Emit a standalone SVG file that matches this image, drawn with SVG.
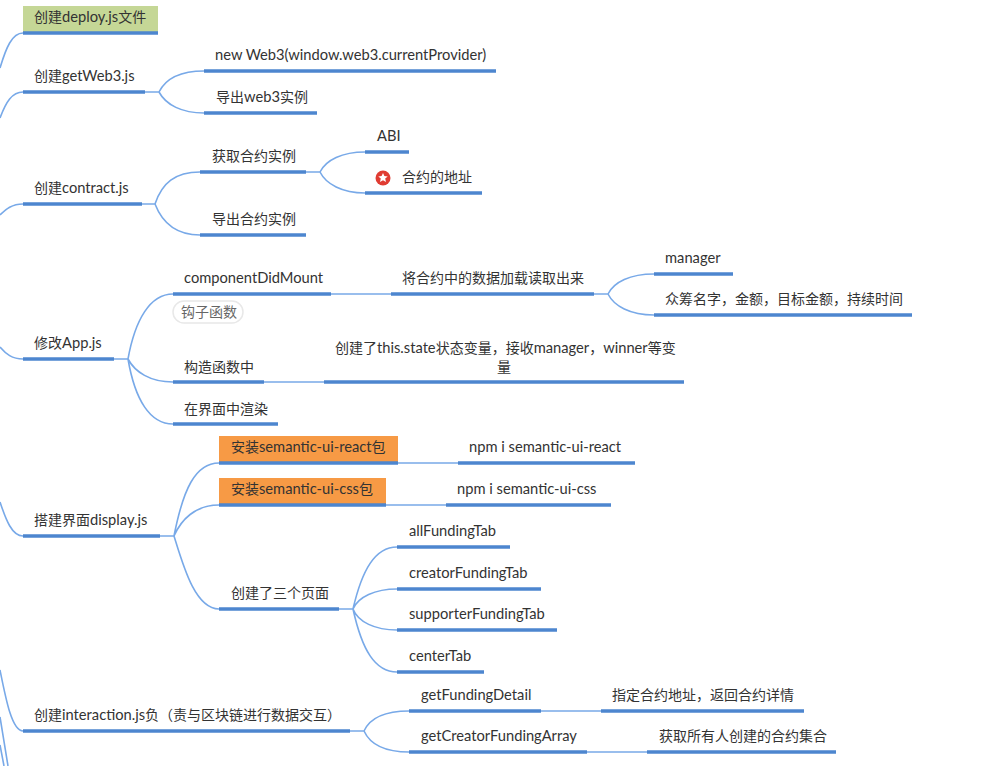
<svg xmlns="http://www.w3.org/2000/svg" width="1000" height="766" viewBox="0 0 1000 766">
<style>
text{font-family:"Noto Sans CJK SC","Noto Sans",sans-serif;font-size:14px;fill:#333}
.l{font-family:Lato,"Noto Sans",sans-serif;font-size:14.7px}
.bar{stroke:#4d86cf;stroke-width:3.5;fill:none}
.link{stroke:#78a9e8;stroke-width:1.6;fill:none}
</style>
<rect width="1000" height="766" fill="#fff"/>
<g id="connectors">
<path class="link" d="M0 68C6 48 12 33 23 33M0 118C6 102 12 92 23 92M0 215C6 209 12 204 23 204M0 347C6 354 12 359 23 359M0 502C6 520 12 536 23 536M0 670C6 700 12 731 23 731M0 717L8 766M0 745L4 766"/>
<path class="link" d="M145 92H159C166 78 182 71 204 71M159 92C166 105 182 113 204 113"/>
<path class="link" d="M142 204H155C162 183 175 172 200 172M155 204C162 222 175 235 200 235"/>
<path class="link" d="M306 172H320C326 160 342 152 365 152M320 172C326 184 342 193 365 193"/>
<path class="link" d="M114 359H128C135 320 150 294 173 294M128 359C135 372 150 382 173 382M128 359C135 400 150 424 173 424"/>
<path class="link" d="M331 294H391M594 294H608C614 282 630 274 654 274M608 294C614 306 630 315 654 315M264 382H324"/>
<path class="link" d="M160 536H174C183 490 195 463 219 463M174 536C181 520 195 505 219 505M174 536C183 565 195 609 219 609"/>
<path class="link" d="M398 463H458M386 505H446"/>
<path class="link" d="M339 609H353C362 570 375 547 397 547M353 609C358 597 375 589 397 589M353 609C358 622 375 630 397 630M353 609C362 650 375 672 397 672"/>
<path class="link" d="M350 731H364C370 718 385 711 409 711M364 731C370 744 385 752 409 752M541 711H601M587 752H647"/>
</g>
<g id="n-deploy"><rect x="23" y="6" width="135" height="27" fill="#c5d796"/><path class="bar" d="M23 33H158"/><text x="34" y="22">创建<tspan class="l">deploy.js</tspan>文件</text></g>
<g id="n-getweb3"><path class="bar" d="M23 92H145"/><text x="34" y="81">创建<tspan class="l">getWeb3.js</tspan></text></g>
<g id="n-provider"><path class="bar" d="M204 71H496"/><text x="215" y="60"><tspan class="l">new Web3(window.web3.currentProvider)</tspan></text></g>
<g id="n-export-web3"><path class="bar" d="M204 113H317"/><text x="216" y="102">导出<tspan class="l">web3</tspan>实例</text></g>
<g id="n-contract"><path class="bar" d="M23 204H142"/><text x="34" y="193">创建<tspan class="l">contract.js</tspan></text></g>
<g id="n-get-instance"><path class="bar" d="M200 172H306"/><text x="212" y="161">获取合约实例</text></g>
<g id="n-abi"><path class="bar" d="M365 152H409"/><text x="377" y="141"><tspan class="l">ABI</tspan></text></g>
<g id="n-address"><path class="bar" d="M365 193H482"/><circle cx="383" cy="178" r="7.500" fill="#e03c32"/><path d="M383 173l1.400 3.100 3.300.3-2.500 2.200.8 3.300-3-1.700-3 1.700.8-3.300-2.500-2.200 3.300-.3z" fill="#fff"/><text x="402" y="182">合约的地址</text></g>
<g id="n-export-instance"><path class="bar" d="M200 235H306"/><text x="212" y="224">导出合约实例</text></g>
<g id="n-app"><path class="bar" d="M23 359H114"/><text x="34" y="348">修改<tspan class="l">App.js</tspan></text></g>
<g id="n-did-mount"><path class="bar" d="M173 294H331"/><text x="184" y="283"><tspan class="l">componentDidMount</tspan></text><rect x="173" y="301" width="70" height="22" rx="11" fill="#fff" stroke="#e8e8e8" stroke-width="1.500"/><text x="181" y="317" style="fill:#666">钩子函数</text></g>
<g id="n-load"><path class="bar" d="M391 294H594"/><text x="402" y="283">将合约中的数据加载读取出来</text></g>
<g id="n-manager"><path class="bar" d="M654 274H733"/><text x="665" y="263"><tspan class="l">manager</tspan></text></g>
<g id="n-fields"><path class="bar" d="M654 315H912"/><text x="665" y="304">众筹名字，金额，目标金额，持续时间</text></g>
<g id="n-ctor"><path class="bar" d="M173 382H264"/><text x="184" y="372">构造函数中</text></g>
<g id="n-state"><path class="bar" d="M324 382H684"/><text x="335" y="353">创建了<tspan class="l">this.state</tspan>状态变量，接收<tspan class="l">manager</tspan>，<tspan class="l">winner</tspan>等变</text><text x="497" y="372">量</text></g>
<g id="n-render"><path class="bar" d="M173 424H278"/><text x="184" y="414">在界面中渲染</text></g>
<g id="n-display"><path class="bar" d="M23 536H160"/><text x="34" y="525">搭建界面<tspan class="l">display.js</tspan></text></g>
<g id="n-install-react"><rect x="219" y="436" width="179" height="27" fill="#f79a45"/><path class="bar" d="M219 463H398"/><text x="231" y="452">安装<tspan class="l">semantic-ui-react</tspan>包</text></g>
<g id="n-npm-react"><path class="bar" d="M458 463H635"/><text x="469" y="452"><tspan class="l">npm i semantic-ui-react</tspan></text></g>
<g id="n-install-css"><rect x="219" y="478" width="167" height="27" fill="#f79a45"/><path class="bar" d="M219 505H386"/><text x="231" y="494">安装<tspan class="l">semantic-ui-css</tspan>包</text></g>
<g id="n-npm-css"><path class="bar" d="M446 505H611"/><text x="457" y="494"><tspan class="l">npm i semantic-ui-css</tspan></text></g>
<g id="n-pages"><path class="bar" d="M219 609H339"/><text x="231" y="598">创建了三个页面</text></g>
<g id="n-all"><path class="bar" d="M397 547H510"/><text x="409" y="536"><tspan class="l">allFundingTab</tspan></text></g>
<g id="n-creator"><path class="bar" d="M397 589H541"/><text x="409" y="578"><tspan class="l">creatorFundingTab</tspan></text></g>
<g id="n-supporter"><path class="bar" d="M397 630H557"/><text x="409" y="619"><tspan class="l">supporterFundingTab</tspan></text></g>
<g id="n-center"><path class="bar" d="M397 672H484"/><text x="409" y="661"><tspan class="l">centerTab</tspan></text></g>
<g id="n-interaction"><path class="bar" d="M23 731H350"/><text x="34" y="720">创建<tspan class="l">interaction.js</tspan>负（责与区块链进行数据交互）</text></g>
<g id="n-detail"><path class="bar" d="M409 711H541"/><text x="421" y="700"><tspan class="l">getFundingDetail</tspan></text></g>
<g id="n-detail-note"><path class="bar" d="M601 711H804"/><text x="612" y="700">指定合约地址，返回合约详情</text></g>
<g id="n-array"><path class="bar" d="M409 752H587"/><text x="421" y="741"><tspan class="l">getCreatorFundingArray</tspan></text></g>
<g id="n-array-note"><path class="bar" d="M647 752H836"/><text x="659" y="741">获取所有人创建的合约集合</text></g>
</svg>
